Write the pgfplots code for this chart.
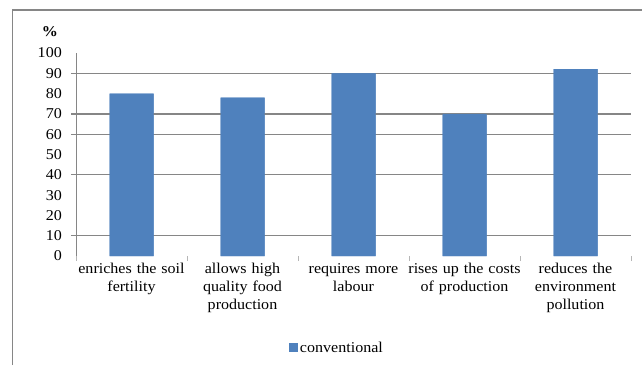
\documentclass[border=0pt]{standalone}
\usepackage{fontspec}
\setmainfont[FakeStretch=1.07]{Liberation Serif}
\usepackage{pgfplots}
\pgfplotsset{compat=1.18}
\definecolor{barblue}{HTML}{4F81BD}
\definecolor{gridgray}{HTML}{868686}
\begin{document}
\fontsize{15}{18}\selectfont
\begin{tikzpicture}[x=1pt,y=1pt]
\useasboundingbox (0,0) rectangle (642,365);
\draw[gridgray, line width=1.2pt] (12.5,0) -- (12.5,355) -- (642,355);
\begin{axis}[
  at={(76pt,109pt)}, anchor=south west, scale only axis,
  width=555pt, height=203pt,
  xmin=0, xmax=5, ymin=0, ymax=100,
  separate axis lines,
  axis x line*=bottom, axis y line*=left,
  x axis line style={draw=none},
  y axis line style={draw=gridgray, line width=1pt, -},
  /pgf/number format/assume math mode=true,
  ytick={0,10,...,100},
  major tick length=0pt,
  yticklabel style={font=\fontsize{15}{18}\selectfont, xshift=-9pt},
  xtick={0.5,1.5,2.5,3.5,4.5},
  xticklabels={enriches the soil\\fertility, allows high\\quality food\\production, requires more\\labour, rises up the costs\\of production, reduces the\\environment\\pollution},
  xticklabel style={align=center, text width=120pt, font=\fontsize{15}{18}\selectfont, yshift=-2pt},
  extra x ticks={0,1,2,3,4,5}, extra x tick labels={},
  extra x tick style={major tick length=5pt, tick align=outside, tick style={gridgray!60, line width=1pt}},
  extra y ticks={10,40,60,90}, extra y tick labels={},
  extra y tick style={grid=major, major grid style={gridgray, line width=1pt}, major tick length=5pt, tick align=outside, tick style={gridgray, line width=1pt}},
  legend entries={conventional},
  legend style={draw=none, fill=none, at={(axis description cs:0.378,-0.453)}, anchor=west, font=\fontsize{15}{18}\selectfont},
  legend image code/.code={\fill[barblue] (0pt,-4.5pt) rectangle (9pt,4.5pt);},
  clip=false,
]
\addplot[ybar, bar width=44pt, fill=barblue, draw=none] coordinates {(0.5,80) (1.5,78) (2.5,90) (3.5,70) (4.5,92)};
\addplot[forget plot, gridgray, line width=2pt] coordinates {(-0.045,70) (5,70)};
\addplot[ybar, bar width=44pt, fill=barblue, draw=none, forget plot] coordinates {(0.5,80) (1.5,78) (2.5,90) (3.5,70) (4.5,92)};
\node[font=\fontsize{15}{18}\selectfont\bfseries] at (axis description cs:-0.047,1.103) {\%};
\end{axis}
\end{tikzpicture}
\end{document}
